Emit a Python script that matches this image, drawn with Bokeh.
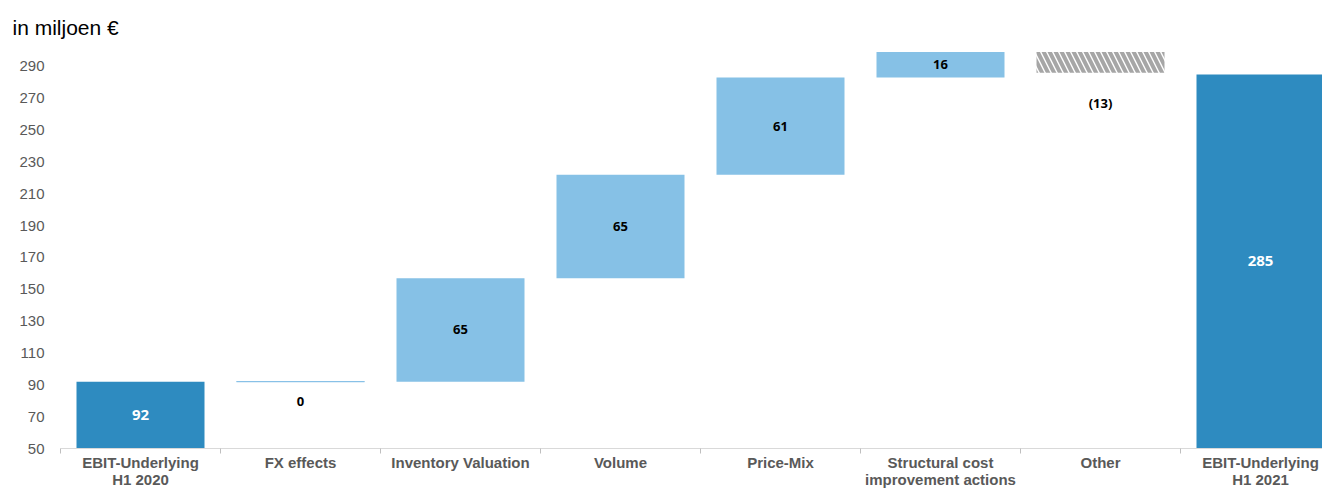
from bokeh.plotting import figure
from bokeh.models import Range1d, FixedTicker, ColumnDataSource
from bokeh.core.properties import value
from bokeh.embed import file_html
from bokeh.resources import INLINE

# ---- data ----
categories = ["EBIT-Underlying\nH1 2020", "FX effects", "Inventory Valuation", "Volume",
              "Price-Mix", "Structural cost\nimprovement actions", "Other",
              "EBIT-Underlying\nH1 2021"]
values = [92, 0, 65, 65, 61, 16, -13, 285]
kinds = ["total", "delta", "delta", "delta", "delta", "delta", "delta", "total"]
value_labels = ["92", "0", "65", "65", "61", "16", "(13)", "285"]
y_ticks = [50, 70, 90, 110, 130, 150, 170, 190, 210, 230, 250, 270, 290]
y_min, y_max = 50, 300

# ---- styles ----
DARK = "#2E8BC0"
LIGHT = "#86C1E6"
GREY_TXT = "#595959"
AXIS_GREY = "#D9D9D9"

# ---- waterfall geometry from data ----
n = len(values)
xs = list(range(n))
bottoms, tops = [], []
running = 0
for v, k in zip(values, kinds):
    if k == "total":
        bottoms.append(0)
        tops.append(v)
        running = v
    else:
        bottoms.append(running)
        tops.append(running + v)
        running += v

groups = {"total": {"x": [], "b": [], "t": []},
          "pos": {"x": [], "b": [], "t": []},
          "zero": {"x": [], "b": [], "t": []},
          "neg": {"x": [], "b": [], "t": []}}
lab_x, lab_y, lab_t, lab_c, lab_off, lab_fs = [], [], [], [], [], []
for i, (v, k) in enumerate(zip(values, kinds)):
    b, t = bottoms[i], tops[i]
    if k == "total":
        g = "total"
        ly, col, off, fs = (max(b, y_min) + t) / 2, "white", 0, "15px"
    elif v > 0:
        g = "pos"
        ly, col, off, fs = (b + t) / 2, "black", 0, "13px"
    elif v == 0:
        g = "zero"
        ly, col, off, fs = t, "black", 20, "13px"
    else:
        g = "neg"
        ly, col, off, fs = min(b, t), "black", 30, "13px"
    groups[g]["x"].append(i)
    groups[g]["b"].append(b)
    groups[g]["t"].append(t)
    lab_x.append(i)
    lab_y.append(ly)
    lab_t.append(value_labels[i])
    lab_c.append(col)
    lab_off.append(off)
    lab_fs.append(fs)

# ---- layout ----
W, H = 1322, 490
LEFT = 60
step = 160.0
frame_w = W - LEFT
x_end = -0.5 + frame_w / step

p = figure(width=W, height=H, output_backend="svg", toolbar_location=None,
           x_range=Range1d(-0.5, x_end), y_range=Range1d(y_min, y_max),
           min_border_left=LEFT, min_border_right=0, min_border_top=50,
           min_border_bottom=0)
p.outline_line_color = None
p.background_fill_color = "white"
p.border_fill_color = "white"
p.grid.visible = False

p.title.text = "in miljoen €"
p.title.text_font = "Liberation Sans"
p.title.text_font_size = "21px"
p.title.text_font_style = "normal"
p.title.text_color = "black"
p.title.offset = -48
p.title.standoff = 24

bw = 0.8
p.vbar(x=groups["total"]["x"], bottom=groups["total"]["b"], top=groups["total"]["t"],
       width=bw, fill_color=DARK, line_color=None)
p.vbar(x=groups["pos"]["x"], bottom=groups["pos"]["b"], top=groups["pos"]["t"],
       width=bw, fill_color=LIGHT, line_color=None)
p.vbar(x=groups["zero"]["x"], bottom=groups["zero"]["b"], top=groups["zero"]["t"],
       width=bw, fill_color=None, line_color=LIGHT, line_width=1)
p.vbar(x=groups["neg"]["x"], bottom=groups["neg"]["b"], top=groups["neg"]["t"],
       width=bw, fill_color="white", line_color=None,
       hatch_pattern="\\", hatch_color="#A6A6A6", hatch_weight=4, hatch_scale=12)

src = ColumnDataSource(dict(x=lab_x, y=lab_y, t=lab_t, c=lab_c, off=lab_off, fs=lab_fs))
p.text(x="x", y="y", text="t", text_color="c", y_offset="off", source=src,
       text_align="center", text_baseline="middle",
       text_font=value("Open Sans"), text_font_style="bold", text_font_size="fs")

# y axis
yax = p.yaxis[0]
yax.ticker = FixedTicker(ticks=y_ticks)
yax.axis_line_color = None
yax.major_tick_line_color = None
yax.minor_tick_line_color = None
yax.major_tick_out = 0
yax.major_tick_in = 0
yax.major_label_standoff = 16
yax.major_label_text_font = "Liberation Sans"
yax.major_label_text_font_size = "15px"
yax.major_label_text_color = GREY_TXT

# x axis
xax = p.xaxis[0]
xax.ticker = FixedTicker(ticks=xs, minor_ticks=[i - 0.5 for i in range(n + 1)])
xax.major_label_overrides = {i: c for i, c in enumerate(categories)}
xax.axis_line_color = AXIS_GREY
xax.axis_line_width = 1
xax.major_tick_line_color = None
xax.major_tick_out = 0
xax.major_tick_in = 0
xax.minor_tick_line_color = "#BFBFBF"
xax.minor_tick_out = 0
xax.minor_tick_in = -5
xax.major_label_standoff = 5
xax.major_label_text_line_height = 1.0
xax.major_label_text_font = "Liberation Sans"
xax.major_label_text_font_style = "bold"
xax.major_label_text_font_size = "15px"
xax.major_label_text_color = GREY_TXT

open("out.html", "w").write(file_html(p, INLINE))
